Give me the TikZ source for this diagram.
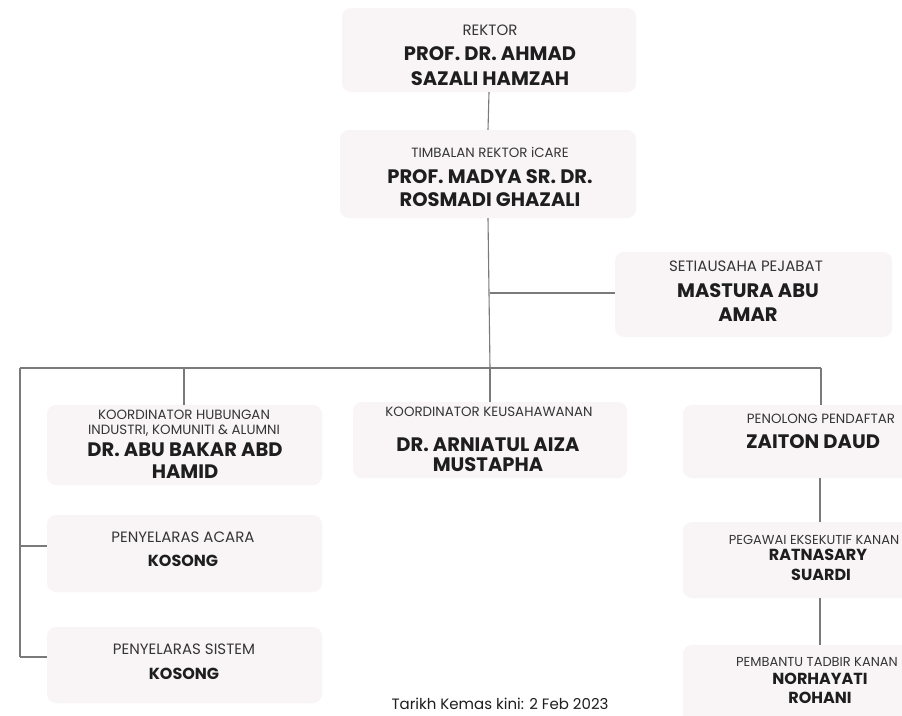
\documentclass[tikz,border=0pt]{standalone}
\usepackage{fontspec}
\setmainfont{Poppins}
\definecolor{boxfill}{HTML}{F9F5F6}
\definecolor{linec}{HTML}{7A7A7A}
\definecolor{txtc}{HTML}{1E1E1E}
\begin{document}
\begin{tikzpicture}[x=1pt,y=-1pt,
  box/.style={rectangle,rounded corners=9pt,fill=boxfill,draw=none,inner sep=0pt},
  capt/.style={font=\fontsize{13.4}{15}\selectfont,text=txtc!90,inner sep=0pt,text height=9.3pt,text depth=0pt},
  captl/.style={font=\fontsize{15}{17}\selectfont,text=txtc!90,inner sep=0pt,text height=10.4pt,text depth=0pt},
  nm/.style={font=\fontsize{19.5}{23}\selectfont\bfseries,text=txtc,inner sep=0pt,text height=13.7pt,text depth=0pt},
  nms/.style={font=\fontsize{16}{19}\selectfont\bfseries,text=txtc,inner sep=0pt,text height=11.2pt,text depth=0pt},
  conn/.style={draw=linec,line width=1.1pt}]
\path[use as bounding box,clip] (0,0) rectangle (902,715);
\fill[white] (0,0) rectangle (902,715);
% boxes
\node[box,minimum width=294pt,minimum height=84pt] (rk) at (489,50) {};
\node[box,minimum width=296pt,minimum height=88pt] (tr) at (488,174) {};
\node[box,minimum width=277pt,minimum height=85pt] (ms) at (753.5,294.5) {};
\node[box,minimum width=275pt,minimum height=80pt] (kh) at (184.5,445) {};
\node[box,minimum width=274pt,minimum height=76pt] (ku) at (490,440) {};
\node[box,minimum width=274pt,minimum height=73pt] (pp) at (820,441.5) {};
\node[box,minimum width=274pt,minimum height=76pt] (pe) at (820,560) {};
\node[box,minimum width=274pt,minimum height=80pt] (pb) at (820,685) {};
\node[box,minimum width=275pt,minimum height=77pt] (pa) at (184.5,553.5) {};
\node[box,minimum width=275pt,minimum height=76pt] (ps) at (184.5,665) {};
% texts
\node[captl] (rk1) at (490,30.5) {REKTOR};
\node[nm] (rk2) at (490,54) {PROF. DR. AHMAD};
\node[nm] (rk3) at (490,79) {SAZALI HAMZAH};
\node[capt] (tr1) at (490,153) {TIMBALAN REKTOR iCARE};
\node[nm] (tr2) at (490,177) {PROF. MADYA SR. DR.};
\node[nm] (tr3) at (490,200) {ROSMADI GHAZALI};
\node[captl] (ms1) at (746,266) {SETIAUSAHA PEJABAT};
\node[nm] (ms2) at (748,291) {MASTURA ABU};
\node[nm] (ms3) at (748,315) {AMAR};
\node[capt] (kh1) at (184,414.5) {KOORDINATOR HUBUNGAN};
\node[capt] (kh2) at (184,429.5) {INDUSTRI, KOMUNITI \& ALUMNI};
\node[nm] (kh3) at (185,450) {DR. ABU BAKAR ABD};
\node[nm] (kh4) at (185,472) {HAMID};
\node[capt] (ku1) at (489,412) {KOORDINATOR KEUSAHAWANAN};
\node[nm] (ku2) at (488,444.5) {DR. ARNIATUL AIZA};
\node[nm] (ku3) at (488,464.5) {MUSTAPHA};
\node[capt] (pp1) at (821,419) {PENOLONG PENDAFTAR};
\node[nm] (pp2) at (813,441.5) {ZAITON DAUD};
\node[capt,font=\fontsize{13}{15}\selectfont] (pe1) at (814,540) {PEGAWAI EKSEKUTIF KANAN};
\node[nms] (pe2) at (818,554.5) {RATNASARY};
\node[nms] (pe3) at (821,575) {SUARDI};
\node[capt,font=\fontsize{13}{15}\selectfont] (pb1) at (817,662) {PEMBANTU TADBIR KANAN};
\node[nms] (pb2) at (820,679) {NORHAYATI};
\node[nms] (pb3) at (820,697.5) {ROHANI};
\node[captl] (pa1) at (183,537) {PENYELARAS ACARA};
\node[nms] (pa2) at (183,561) {KOSONG};
\node[captl] (ps1) at (184,649) {PENYELARAS SISTEM};
\node[nms] (ps2) at (184,673.5) {KOSONG};
\node[font=\fontsize{15}{17}\selectfont,text=txtc,inner sep=0pt] (ft) at (500,704) {Tarikh Kemas kini: 2 Feb 2023};
% junction coordinates
\coordinate (j) at (490,368);
\coordinate (jm) at (490,293);
\coordinate (jl) at (20,368);
\coordinate (jr) at (821,368);
\coordinate (jk) at (184,368);
\coordinate (la) at (20,546);
\coordinate (ls) at (20,657);
% connectors
\draw[conn] (rk.south) -- (tr.north);
\draw[conn] (tr.south) -- (j);
\draw[conn] (jm) -- (jm -| ms.west);
\draw[conn] (jl) -- (jr);
\draw[conn] (jk) -- (jk |- kh.north);
\draw[conn] (j) -- (ku.north);
\draw[conn] (jr) -- (jr |- pp.north);
\draw[conn] (jl) -- (ls);
\draw[conn] (la) -- (la -| pa.west);
\draw[conn] (ls) -- (ls -| ps.west);
\draw[conn] (pp.south) -- (pe.north);
\draw[conn] (pe.south) -- (pb.north);
\end{tikzpicture}
\end{document}
